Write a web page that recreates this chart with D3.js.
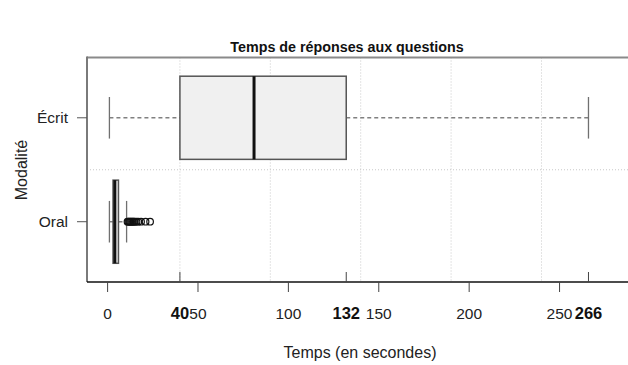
<!DOCTYPE html>
<html>
<head>
<meta charset="utf-8">
<script src="https://cdn.jsdelivr.net/npm/d3@7"></script>
<style>
  html, body { margin: 0; padding: 0; background: #fff; }
  svg { display: block; font-family: "Liberation Sans", Arial, Helvetica, sans-serif; }
</style>
</head>
<body>
<svg id="chart" width="628" height="365"></svg>
<script>
// Response times (seconds) per modality
const categories = ["Oral", "Écrit"];
const whiskerLow  = [1, 1];
const q1          = [3, 40];
const median      = [4, 81];
const q3          = [6, 132];
const whiskerHigh = [10.5, 266];
const oralOutliers = [11, 11.5, 12, 12.5, 13, 13.5, 14, 14.5, 15, 16, 17, 18.5, 21, 23.5];
const tickValues = [0, 50, 100, 150, 200, 250];
const markedValues = [40, 132, 266];
const gridValues = [40, 90, 140, 190, 240];

const svg = d3.select("#chart");
const plotLeft = 87, plotRight = 608, plotTop = 57.5, plotBottom = 282;

const x = d3.scaleLinear().domain([-11.4, 276.8]).range([plotLeft, plotRight]);
const y = d3.scaleLinear().domain([0.42, 2.58]).range([plotBottom, plotTop]);
const pos = i => i + 1;
const boxHalf = 0.4, capHalf = 0.2;

// grid
const g = svg.append("g");
g.selectAll("line.vgrid").data(gridValues).enter().append("line")
  .attr("x1", d => x(d)).attr("x2", d => x(d))
  .attr("y1", plotTop).attr("y2", plotBottom)
  .attr("stroke", "#c8c8c8").attr("stroke-width", 1).attr("stroke-dasharray", "1,2");
g.append("line")
  .attr("x1", plotLeft).attr("x2", 628).attr("y1", y(1.5)).attr("y2", y(1.5))
  .attr("stroke", "#c8c8c8").attr("stroke-width", 1).attr("stroke-dasharray", "1,2");

// frame
svg.append("line").attr("x1", plotLeft).attr("x2", 628).attr("y1", plotTop).attr("y2", plotTop)
  .attr("stroke", "#8a8a8a").attr("stroke-width", 2);
svg.append("line").attr("x1", plotLeft).attr("x2", plotLeft).attr("y1", plotTop - 1).attr("y2", plotBottom)
  .attr("stroke", "#7a7a7a").attr("stroke-width", 2);

// boxes
const boxes = svg.append("g");
categories.forEach((c, i) => {
  const cy = y(pos(i));
  // whiskers
  [[whiskerLow[i], q1[i]], [q3[i], whiskerHigh[i]]].forEach(([a, b]) => {
    boxes.append("line").attr("x1", x(a)).attr("x2", x(b)).attr("y1", cy).attr("y2", cy)
      .attr("stroke", "#808080").attr("stroke-width", 1.5).attr("stroke-dasharray", "4,3");
  });
  [whiskerLow[i], whiskerHigh[i]].forEach(v => {
    boxes.append("line").attr("x1", x(v)).attr("x2", x(v))
      .attr("y1", y(pos(i) + capHalf)).attr("y2", y(pos(i) - capHalf))
      .attr("stroke", "#707070").attr("stroke-width", 1.3);
  });
  boxes.append("rect")
    .attr("x", x(q1[i])).attr("width", x(q3[i]) - x(q1[i]))
    .attr("y", y(pos(i) + boxHalf)).attr("height", y(pos(i) - boxHalf) - y(pos(i) + boxHalf))
    .attr("fill", "#f0f0f0").attr("stroke", "#555").attr("stroke-width", 1.5);
  boxes.append("line").attr("x1", x(median[i])).attr("x2", x(median[i]))
    .attr("y1", y(pos(i) + boxHalf)).attr("y2", y(pos(i) - boxHalf))
    .attr("stroke", "#111").attr("stroke-width", 3);
});
boxes.selectAll("circle").data(oralOutliers).enter().append("circle")
  .attr("cx", d => x(d)).attr("cy", y(pos(0))).attr("r", 3.3)
  .attr("fill", "none").attr("stroke", "#111").attr("stroke-width", 1.2);

// x axis
const ax = svg.append("g");
ax.append("line").attr("x1", plotLeft).attr("x2", 628).attr("y1", plotBottom).attr("y2", plotBottom)
  .attr("stroke", "#111").attr("stroke-width", 1.3);
ax.selectAll("line.t").data(tickValues).enter().append("line")
  .attr("x1", d => x(d)).attr("x2", d => x(d)).attr("y1", plotBottom).attr("y2", plotBottom + 10)
  .attr("stroke", "#444").attr("stroke-width", 1);
ax.selectAll("line.m").data(markedValues).enter().append("line")
  .attr("x1", d => x(d)).attr("x2", d => x(d)).attr("y1", plotBottom).attr("y2", plotBottom - 10)
  .attr("stroke", "#444").attr("stroke-width", 1);
ax.selectAll("text.t").data(tickValues).enter().append("text")
  .attr("x", d => x(d)).attr("y", 319).attr("text-anchor", "middle")
  .attr("font-size", 15.5).attr("fill", "#222").text(d => d);
ax.selectAll("text.m").data(markedValues).enter().append("text")
  .attr("x", d => x(d)).attr("y", 319).attr("text-anchor", "middle")
  .attr("font-size", 16.5).attr("font-weight", "bold").attr("fill", "#111").text(d => d);

// y axis
const ay = svg.append("g");
categories.forEach((c, i) => {
  ay.append("line").attr("x1", plotLeft - 10).attr("x2", plotLeft).attr("y1", y(pos(i))).attr("y2", y(pos(i)))
    .attr("stroke", "#555").attr("stroke-width", 1);
  ay.append("text").attr("x", 68).attr("y", y(pos(i)) + 5.5).attr("text-anchor", "end")
    .attr("font-size", 15.5).attr("fill", "#222").text(c);
});

// titles
svg.append("text").attr("x", 347).attr("y", 52).attr("text-anchor", "middle")
  .attr("font-size", 14.3).attr("font-weight", "bold").attr("fill", "#111")
  .text("Temps de réponses aux questions");
svg.append("text").attr("x", 360).attr("y", 358).attr("text-anchor", "middle")
  .attr("font-size", 16).attr("fill", "#222").text("Temps (en secondes)");
svg.append("text").attr("transform", "translate(26.5,170) rotate(-90)").attr("text-anchor", "middle")
  .attr("font-size", 16).attr("fill", "#222").text("Modalité");
</script>
</body>
</html>
